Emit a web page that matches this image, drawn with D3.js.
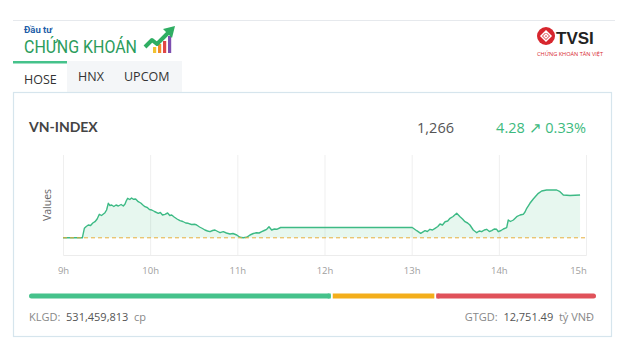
<!DOCTYPE html>
<html><head><meta charset="utf-8">
<script src="https://cdn.jsdelivr.net/npm/d3@7"></script>
<style>
html,body{margin:0;padding:0;background:#fff;}
svg{display:block;font-family:"Open Sans",sans-serif;}
text{white-space:pre;}
</style></head>
<body><svg id="c" width="629" height="360"></svg>
<script>
// ---- data ----
const indexName = "VN-INDEX";
const refValue = 1261.72;
const lastValue = "1,266";
const change = "4.28";
const changePct = "0.33%";
const minutes = [0,13.3,14.7,16.0,17.4,19.0,20.5,22.0,23.5,25.0,26.5,28.9,30.0,31.2,32.3,33.5,35.0,36.5,38.1,40.0,41.5,42.7,43.5,44.5,46.0,47.2,48.4,50.0,51.8,53.5,55.0,56.4,58.0,59.5,61.1,63.0,65.6,67.0,68.5,70.2,72.0,73.5,74.8,76.5,78.5,80.5,82.5,84.5,86.2,88.5,90.9,92.0,94.0,96.0,97.7,99.5,101.2,103.0,104.6,106.5,108.1,110.3,112.5,114.9,117.0,119.6,121.8,124.0,126.4,128.7,131.0,133.3,135.0,136.8,138.5,140.2,141.8,143.6,145.5,147.1,149.8,240.4,243.5,246.2,249.2,250.8,252.6,254.3,256.1,258.0,259.5,261.2,263.0,264.8,266.4,268.5,271.0,273.3,275.0,276.7,278.5,280.1,282.4,284.8,286.5,288.2,290.0,291.6,293.5,295.1,296.8,298.5,299.6,301.5,303.1,305.4,306.5,308.0,310.0,312.3,314.6,316.8,318.0,319.2,321.4,323.7,325.5,327.2,329.5,332.9,339.8,342.1,344.4,349.0,355.9];
const values = [1261.72,1261.72,1262.67,1262.85,1263.0,1262.95,1263.2,1263.33,1263.6,1264.07,1263.95,1264.23,1264.5,1265.17,1264.95,1265.0,1264.85,1265.0,1264.9,1265.05,1264.9,1265.1,1265.4,1265.67,1265.55,1265.7,1265.57,1265.6,1265.33,1265.2,1265.0,1264.83,1264.75,1264.55,1264.5,1264.35,1264.17,1264.25,1264.0,1264.07,1264.2,1263.95,1264.0,1263.8,1263.6,1263.43,1263.35,1263.2,1263.17,1263.05,1263.07,1263.0,1262.8,1262.65,1262.5,1262.4,1262.33,1262.45,1262.5,1262.35,1262.23,1262.33,1262.2,1262.1,1262.15,1262.0,1261.77,1261.72,1261.77,1262.0,1262.15,1262.23,1262.2,1262.33,1262.45,1262.57,1262.83,1262.5,1262.6,1262.57,1262.75,1262.75,1262.43,1262.17,1262.43,1262.35,1262.57,1262.5,1262.67,1262.85,1263.1,1263.0,1263.33,1263.4,1263.67,1263.85,1264.17,1263.83,1263.6,1263.33,1263.2,1263.0,1262.5,1262.23,1262.4,1262.33,1262.5,1262.57,1262.35,1262.43,1262.6,1262.57,1262.33,1262.45,1262.6,1262.73,1263.5,1263.35,1263.5,1263.83,1264.0,1264.07,1264.3,1264.67,1265.17,1265.6,1265.9,1266.17,1266.4,1266.5,1266.5,1266.33,1266.0,1265.95,1266.0];
const tickMinutes = [0,60,120,180,240,300,360];
const tickLabels = ["9h","10h","11h","12h","13h","14h","15h"];
const breadthLabels = ["up","unchanged","down"];
const breadthCounts = [228,78,121];
const breadthColors = ["#45c28b","#f3ae1b","#e0525a"];
const tabs = ["HOSE","HNX","UPCOM"];
const klgd = "531,459,813";
const gtgd = "12,751.49";

const svg = d3.select("#c");

// ---- header ----
svg.append("line").attr("x1",13).attr("x2",615).attr("y1",20.5).attr("y2",20.5).attr("stroke","#e6e9ed");
svg.append("text").attr("x",24).attr("y",33).attr("font-size",9.5).attr("font-weight",700)
  .attr("fill","#1d5ea8").attr("font-family","Roboto, sans-serif").text("Đầu tư");
svg.append("text").attr("x",24).attr("y",53).attr("font-size",18.5).attr("fill","#2b9c5b")
  .attr("font-family","Roboto, sans-serif").attr("textLength",113).attr("lengthAdjust","spacingAndGlyphs").text("CHỨNG KHOÁN");
// icon bars
const ic = svg.append("g");
[["#f2c230",153,6],["#f08c2a",158,9],["#e04646",163,12],["#7d4fb0",168,17]].forEach(b=>{
  ic.append("rect").attr("x",b[1]).attr("y",53-b[2]).attr("width",3.2).attr("height",b[2]).attr("fill",b[0]);
});
ic.append("polyline").attr("points","145,47 152,40 157,44 169,32").attr("fill","none").attr("stroke","#2fae63").attr("stroke-width",4).attr("stroke-linejoin","round");
ic.append("polygon").attr("points","163,29 175,26 172,38").attr("fill","#2fae63");

// TVSI logo
const tv = svg.append("g");
tv.append("circle").attr("cx",546).attr("cy",36).attr("r",9).attr("fill","#d7262e");
tv.append("path").attr("d","M541,36 L546,31 L551,36 L546,41 Z M544,36 L546,34 L548,36 L546,38 Z").attr("fill","none").attr("stroke","#fff").attr("stroke-width",1.5);
tv.append("text").attr("x",556).attr("y",44).attr("font-size",17).attr("font-weight",700)
  .attr("fill","#222").attr("font-family","Liberation Sans, sans-serif").text("TVSI");
tv.append("text").attr("x",537).attr("y",56).attr("font-size",5).attr("fill","#d7262e")
  .attr("textLength",66).attr("lengthAdjust","spacingAndGlyphs").text("CHỨNG KHOÁN TÂN VIỆT");

// tabs
svg.append("rect").attr("x",67).attr("y",61).attr("width",115).attr("height",31).attr("fill","#f4f6f8");
svg.append("rect").attr("x",13).attr("y",61).attr("width",54).attr("height",2.5).attr("fill","#45c28b");
const tabX = [24,78,124], tabY=[84,81,81];
tabs.forEach((t,i)=>svg.append("text").attr("x",tabX[i]).attr("y",tabY[i]).attr("font-size",12.5).attr("fill","#333").text(t));

// card
svg.append("rect").attr("x",13.5).attr("y",92.5).attr("width",598).attr("height",244).attr("fill","none").attr("stroke","#d6e5ed").attr("stroke-width",1.2);

svg.append("text").attr("x",29).attr("y",132).attr("font-size",14).attr("font-weight",700).attr("fill","#444")
  .attr("font-family","Lato, sans-serif").text(indexName);
svg.append("text").attr("x",454).attr("y",133).attr("text-anchor","end").attr("font-size",14.5).attr("fill","#555").text(lastValue);
svg.append("text").attr("x",586).attr("y",133).attr("text-anchor","end").attr("font-size",14.5).attr("fill","#3dba7e")
  .text(change+" \u2197 "+changePct);

// ---- chart ----
const x = d3.scaleLinear().domain([0,360]).range([63,586]);
const y = d3.scaleLinear().domain([1260,1270]).range([255,155]);
const data = minutes.map((m,i)=>({m, v:values[i]}));

const ax = svg.append("g").attr("transform","translate(0,255)")
  .call(d3.axisBottom(x).tickValues(tickMinutes).tickFormat((d,i)=>tickLabels[i]).tickSize(-100).tickPadding(12));
ax.select(".domain").attr("stroke","#ececec");
ax.selectAll(".tick line").attr("stroke","#efefef");
ax.selectAll(".tick text").attr("fill","#a0a0a0").attr("font-size",9.5).attr("font-family","Open Sans, sans-serif");
ax.selectAll(".tick text").filter((d,i)=>i===tickMinutes.length-1).attr("dx",-8);

svg.append("text").attr("transform","translate(51,205) rotate(-90)").attr("text-anchor","middle")
  .attr("font-size",10.5).attr("fill","#666").text("Values");

svg.append("path").datum(data)
  .attr("d",d3.area().x(d=>x(d.m)).y0(y(refValue)).y1(d=>y(d.v)))
  .attr("fill","#3dba7e").attr("fill-opacity",0.12);
svg.append("path").datum(data)
  .attr("d",d3.line().x(d=>x(d.m)).y(d=>y(d.v)))
  .attr("fill","none").attr("stroke","#3dba85").attr("stroke-width",1.4).attr("stroke-linejoin","round");
svg.append("line").attr("x1",x(0)).attr("x2",x(360)).attr("y1",y(refValue)).attr("y2",y(refValue))
  .attr("stroke","#e6b03c").attr("stroke-width",1).attr("stroke-dasharray","4,3");

// ---- breadth bar ----
const total = d3.sum(breadthCounts);
const bx = d3.scaleLinear().domain([0,total]).range([29,596]);
let acc = 0;
breadthCounts.forEach((c,i)=>{
  const x0 = bx(acc)+(i>0?1:0), x1 = bx(acc+c)-(i<breadthCounts.length-1?1:0);
  svg.append("rect").attr("x",x0).attr("y",293.5).attr("width",x1-x0).attr("height",5)
    .attr("rx",(i===0||i===breadthCounts.length-1)?2.5:0).attr("fill",breadthColors[i]);
  acc += c;
});
svg.append("rect").attr("x",bx(breadthCounts[0])-4).attr("y",293.5).attr("width",3).attr("height",5).attr("fill",breadthColors[0]);
svg.append("rect").attr("x",bx(breadthCounts[0]+breadthCounts[1])+1).attr("y",293.5).attr("width",3).attr("height",5).attr("fill",breadthColors[2]);

const k = svg.append("text").attr("x",29).attr("y",321).attr("font-size",11).attr("fill","#888");
k.append("tspan").text("KLGD:  ");
k.append("tspan").attr("fill","#555").text(klgd);
k.append("tspan").text("  cp");
const g = svg.append("text").attr("x",594).attr("y",321).attr("text-anchor","end").attr("font-size",11).attr("fill","#888");
g.append("tspan").text("GTGD:  ");
g.append("tspan").attr("fill","#555").text(gtgd);
g.append("tspan").text("  tỷ VNĐ");
</script></body></html>
